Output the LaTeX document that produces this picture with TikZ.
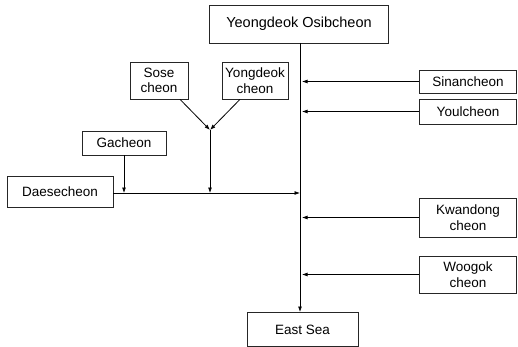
\documentclass[tikz,border=0pt]{standalone}
\usepackage{fontspec}
\setmainfont{Liberation Sans}
\usetikzlibrary{arrows.meta,calc}
\begin{document}
\begin{tikzpicture}[x=1pt,y=-1pt,
  box/.style={draw=black!85,line width=0.7pt,rectangle,inner sep=0pt,align=center,font=\fontsize{13.5}{15.5}\selectfont},
  flow/.style={line width=0.8pt,-{Latex[length=5.5pt,width=4pt]}},
  plain/.style={line width=0.8pt}]
\useasboundingbox (0,0) rectangle (518,347);
\node[box,minimum width=179pt,minimum height=38pt,font=\fontsize{14.5}{16}\selectfont] (top) at (299,24) {Yeongdeok Osibcheon};
\node[box,minimum width=111pt,minimum height=34pt] (east) at (302.5,329.5) {East Sea};
\node[box,minimum width=58pt,minimum height=37pt] (sose) at (159,80.5) {Sose\\cheon};
\node[box,minimum width=66pt,minimum height=37pt] (yong) at (255,80.5) {Yongdeok\\cheon};
\node[box,minimum width=97pt,minimum height=23pt] (sinan) at (468,81.5) {Sinancheon};
\node[box,minimum width=97pt,minimum height=25pt] (youl) at (468,111.5) {Youlcheon};
\node[box,minimum width=84pt,minimum height=24pt] (ga) at (124,143) {Gacheon};
\node[box,minimum width=106pt,minimum height=31pt] (daese) at (60,191.5) {Daesecheon};
\node[box,minimum width=97pt,minimum height=39pt] (kwan) at (468,217.5) {Kwandong\\cheon};
\node[box,minimum width=97pt,minimum height=37pt] (woo) at (468,274.5) {Woogok\\cheon};
\coordinate (mtop) at (300,43);
\coordinate (mbot) at (300,312);
\coordinate (j1) at (210,130);
\coordinate (j2) at (210,193);
\coordinate (g2) at (124,193);
\coordinate (m2) at (300,193);
\coordinate (d1) at (113,193);
% main stem
\draw[flow] (mtop) -- (mbot);
% tributaries from the right
\draw[flow] (sinan.west) -- ($(sinan.west -| mtop)+(2,0)$);
\draw[flow] (youl.west) -- ($(youl.west -| mtop)+(2,0)$);
\draw[flow] (kwan.west) -- ($(kwan.west -| mtop)+(2,0)$);
\draw[flow] (woo.west) -- ($(woo.west -| mtop)+(2,0)$);
% Sose and Yongdeok
\draw[flow] ([xshift=21pt]sose.south) -- (j1);
\draw[flow] ([xshift=-15pt]yong.south) -- (j1);
\draw[flow] (j1) -- (j2);
% Gacheon
\draw[flow] (ga.south) -- (g2);
% Daesecheon
\draw[flow] (d1) -- (m2);
\end{tikzpicture}
\end{document}
